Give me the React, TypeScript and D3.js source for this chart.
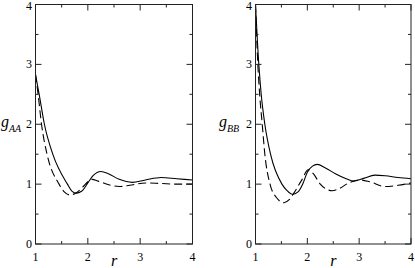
import { useMemo } from 'react'
import * as d3 from "d3"

// g(r), [r, g]
const aaSolid = [
  [1.0, 2.83], [1.07, 2.5], [1.17, 2.0], [1.33, 1.5], [1.61, 1.0], [1.70, 0.88],
  [1.78, 0.85], [1.88, 0.88], [2.0, 1.02], [2.1, 1.14], [2.25, 1.21], [2.4, 1.17],
  [2.6, 1.08], [2.85, 1.03], [3.1, 1.07], [3.4, 1.11], [3.7, 1.09], [4.0, 1.07],
]
const aaDashed = [
  [1.0, 2.83], [1.05, 2.5], [1.115, 2.0], [1.22, 1.5], [1.45, 1.0], [1.55, 0.87],
  [1.65, 0.82], [1.75, 0.84], [1.9, 0.95], [2.0, 1.04], [2.08, 1.08], [2.2, 1.05],
  [2.4, 0.99], [2.6, 0.96], [2.8, 0.98], [3.1, 1.02], [3.4, 1.01], [3.7, 1.0], [4.0, 1.0],
]
const bbSolid = [
  [1.0, 4.0], [1.064, 3.0], [1.11, 2.5], [1.18, 2.0], [1.29, 1.5], [1.51, 1.0],
  [1.6, 0.9], [1.71, 0.83], [1.82, 0.87], [1.92, 1.02], [2.0, 1.2], [2.1, 1.3],
  [2.19, 1.33], [2.35, 1.27], [2.55, 1.17], [2.75, 1.09], [2.9, 1.05], [3.1, 1.1],
  [3.3, 1.15], [3.5, 1.14], [3.75, 1.11], [4.0, 1.09],
]
const bbDashed = [
  [1.0, 4.0], [1.045, 3.0], [1.08, 2.5], [1.13, 2.0], [1.18, 1.5], [1.28, 1.0],
  [1.4, 0.78], [1.55, 0.69], [1.65, 0.74], [1.74, 0.85], [1.88, 1.05], [2.02, 1.24],
  [2.12, 1.17], [2.25, 1.0], [2.38, 0.91], [2.48, 0.89], [2.6, 0.92], [2.8, 1.02],
  [3.0, 1.07], [3.2, 1.04], [3.5, 0.96], [3.75, 0.98], [4.0, 1.02],
]

const xMajor = [1, 2, 3, 4]
const xMinor = [1.5, 2.5, 3.5]
const yMajor = [0, 1, 2, 3, 4]
const yMinor = [0.5, 1.5, 2.5, 3.5]

const panels = [
  { sub: 'AA', solid: aaSolid, dashed: aaDashed, x0: 35.5, x1: 192.5, labelX: 1 },
  { sub: 'BB', solid: bbSolid, dashed: bbDashed, x0: 255.5, x1: 411, labelX: 219 },
]

const top = 4.5
const bottom = 244
const font = 'Liberation Serif, DejaVu Serif, serif'

function Panel({ p }) {
  const x = d3.scaleLinear().domain([1, 4]).range([p.x0, p.x1])
  const y = d3.scaleLinear().domain([0, 4]).range([bottom, top])
  const line = d3.line().x(d => x(d[0])).y(d => y(d[1])).curve(d3.curveMonotoneX)

  return (
    <g>
      <defs>
        <clipPath id={'clip' + p.sub}>
          <rect x={p.x0} y={top} width={p.x1 - p.x0} height={bottom - top} />
        </clipPath>
      </defs>
      <g clipPath={`url(#clip${p.sub})`} fill="none" stroke="black" strokeWidth={1.1}>
        <path d={line(p.solid)} />
        <path d={line(p.dashed)} strokeDasharray="8,4" />
      </g>
      <rect x={p.x0} y={top} width={p.x1 - p.x0} height={bottom - top} fill="none" stroke="#222" strokeWidth={1} />
      {xMajor.concat(xMinor).map(t => {
        const len = xMajor.includes(t) ? 6 : 3
        return (
          <g key={'x' + t} stroke="#222">
            <line x1={x(t)} x2={x(t)} y1={bottom} y2={bottom - len} />
            <line x1={x(t)} x2={x(t)} y1={top} y2={top + len} />
          </g>
        )
      })}
      {yMajor.concat(yMinor).map(t => {
        const len = yMajor.includes(t) ? 6 : 3
        return (
          <g key={'y' + t} stroke="#222">
            <line x1={p.x0} x2={p.x0 + len} y1={y(t)} y2={y(t)} />
            <line x1={p.x1} x2={p.x1 - len} y1={y(t)} y2={y(t)} />
          </g>
        )
      })}
      <g style={{ fontFamily: font }} fontSize={12}>
        {xMajor.map(t => (
          <text key={'xl' + t} x={x(t)} y={261} textAnchor="middle">{t}</text>
        ))}
        {yMajor.map(t => (
          <text key={'yl' + t} x={p.x0 - 3.5} y={Math.max(y(t) + 4, 9.5)} textAnchor="end">{t}</text>
        ))}
        <text x={(p.x0 + p.x1) / 2} y={266} textAnchor="middle" fontSize={16} fontStyle="italic">r</text>
        <text x={p.labelX} y={127} fontSize={16} fontStyle="italic">
          g<tspan fontSize={10} dy={5}>{p.sub}</tspan>
        </text>
      </g>
    </g>
  )
}

export default function App() {
  const items = useMemo(() => panels, [])
  return (
    <svg width={415} height={268} style={{ position: 'absolute', left: 0, top: 0, background: 'white' }}>
      {items.map(p => <Panel key={p.sub} p={p} />)}
    </svg>
  )
}
